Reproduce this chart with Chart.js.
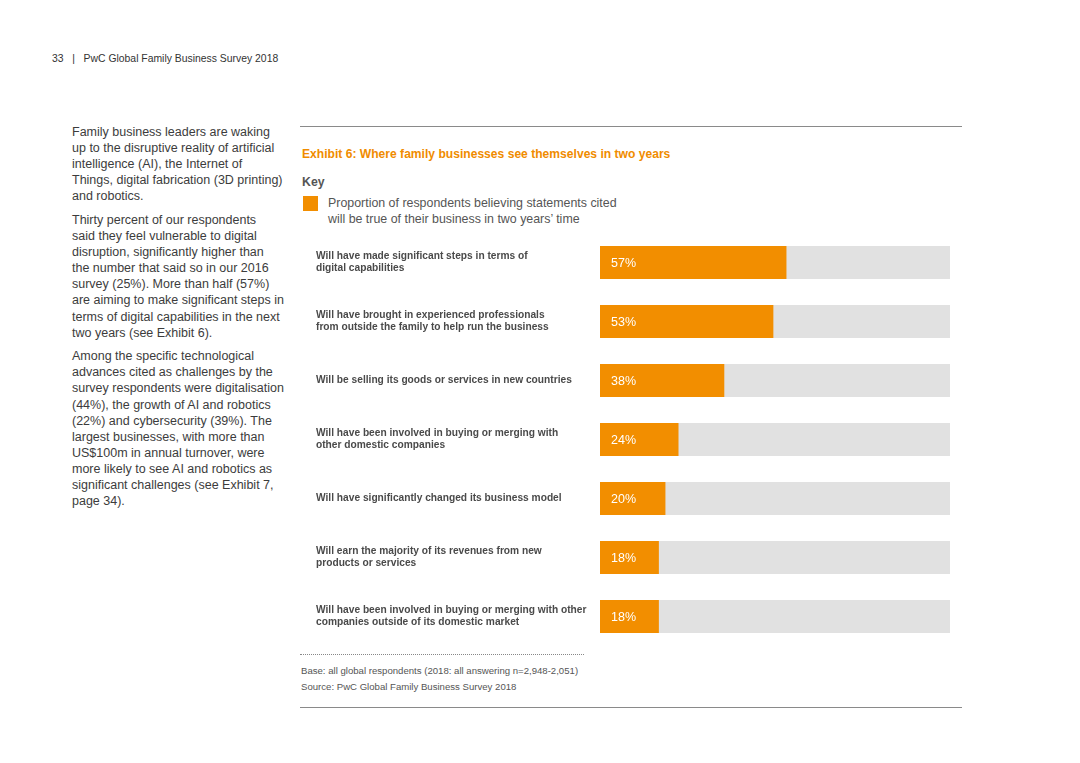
<!DOCTYPE html>
<html>
<head>
<meta charset="utf-8">
<script src="https://cdn.jsdelivr.net/npm/chart.js@4.4.1/dist/chart.umd.min.js"></script>
<style>
    html, body { margin: 0; padding: 0; background: #fff; }
    body { width: 1080px; height: 763px; position: relative; overflow: hidden;
           font-family: "Liberation Sans", Arial, sans-serif; color: #3c3c3c; }
    .abs { position: absolute; white-space: nowrap; }
    #header { left: 52px; top: 52px; font-size: 10.4px; color: #333; line-height: 14px; }
    #body { left: 72px; top: 124px; font-size: 12.5px; line-height: 16.1px; }
    #body p { margin: 0 0 7.5px 0; }
    .rule { position: absolute; left: 300px; width: 662px; height: 0; border-top: 1.5px solid #8a8a8a; }
    #title { left: 302px; top: 146px; font-size: 12.1px; font-weight: bold; color: #f08c00; line-height: 16px; }
    #key { left: 302px; top: 174px; font-size: 12.3px; font-weight: bold; color: #555; line-height: 16px; }
    #keybox { position: absolute; left: 303px; top: 196px; width: 15px; height: 15px; background: #f28e00; }
    #keytext { left: 328px; top: 195px; font-size: 12.4px; color: #555; line-height: 16px; }
    #dots { position: absolute; left: 300px; top: 654px; width: 284px; border-top: 1px dotted #888; }
    #notes { left: 301px; top: 663px; font-size: 9.6px; color: #555; line-height: 16px; }
    #wrap { position: absolute; left: 300px; top: 233px; width: 660px; height: 413px; }
</style>
</head>
<body>
<div id="header" class="abs">33&nbsp;&nbsp;&nbsp;|&nbsp;&nbsp;&nbsp;PwC Global Family Business Survey 2018</div>

<div id="body" class="abs">
    <p>Family business leaders are waking<br>up to the disruptive reality of artificial<br>intelligence (AI), the Internet of<br>Things, digital fabrication (3D printing)<br>and robotics.</p>
    <p>Thirty percent of our respondents<br>said they feel vulnerable to digital<br>disruption, significantly higher than<br>the number that said so in our 2016<br>survey (25%). More than half (57%)<br>are aiming to make significant steps in<br>terms of digital capabilities in the next<br>two years (see Exhibit 6).</p>
    <p>Among the specific technological<br>advances cited as challenges by the<br>survey respondents were digitalisation<br>(44%), the growth of AI and robotics<br>(22%) and cybersecurity (39%). The<br>largest businesses, with more than<br>US$100m in annual turnover, were<br>more likely to see AI and robotics as<br>significant challenges (see Exhibit 7,<br>page 34).</p>
</div>

<div class="rule" style="top:126px"></div>
<div id="title" class="abs">Exhibit 6: Where family businesses see themselves in two years</div>
<div id="key" class="abs">Key</div>
<div id="keybox"></div>
<div id="keytext" class="abs">Proportion of respondents believing statements cited<br>will be true of their business in two years’ time</div>

<div id="wrap"><canvas id="chart"></canvas></div>

<div id="dots"></div>
<div id="notes" class="abs">Base: all global respondents (2018: all answering n=2,948-2,051)<br>Source: PwC Global Family Business Survey 2018</div>
<div class="rule" style="top:707px"></div>

<script>
// statements (multi-line labels) and share of respondents, %
const statements = [
    ['Will have made significant steps in terms of', 'digital capabilities'],
    ['Will have brought in experienced professionals', 'from outside the family to help run the business'],
    'Will be selling its goods or services in new countries',
    ['Will have been involved in buying or merging with', 'other domestic companies'],
    'Will have significantly changed its business model',
    ['Will earn the majority of its revenues from new', 'products or services'],
    ['Will have been involved in buying or merging with other', 'companies outside of its domestic market']
];
const shares = [57, 53, 38, 24, 20, 18, 18];
const axisMax = 107;

const ORANGE = '#f28e00';
const TRACK = '#e1e1e1';

// grey track behind every bar, full width of the plot
const trackPlugin = {
    id: 'track',
    beforeDatasetsDraw(chart) {
        const ctx = chart.ctx;
        const area = chart.chartArea;
        const meta = chart.getDatasetMeta(0);
        ctx.save();
        ctx.fillStyle = TRACK;
        meta.data.forEach(bar => {
            ctx.fillRect(area.left, bar.y - bar.height / 2, area.right - area.left, bar.height);
        });
        ctx.restore();
    }
};

// white percentage inside each bar
const valuePlugin = {
    id: 'values',
    afterDatasetsDraw(chart) {
        const ctx = chart.ctx;
        const meta = chart.getDatasetMeta(0);
        ctx.save();
        ctx.fillStyle = '#fff';
        ctx.font = '12.5px "Liberation Sans", Arial, sans-serif';
        ctx.textBaseline = 'middle';
        ctx.textAlign = 'left';
        meta.data.forEach((bar, i) => {
            ctx.fillText(shares[i] + '%', bar.base + 11, bar.y + 1);
        });
        ctx.restore();
    }
};

new Chart(document.getElementById('chart').getContext('2d'), {
    type: 'bar',
    data: {
        labels: statements,
        datasets: [{
            data: shares,
            backgroundColor: ORANGE,
            borderWidth: 0,
            categoryPercentage: 0.56,
            barPercentage: 1
        }]
    },
    options: {
        indexAxis: 'y',
        responsive: true,
        maintainAspectRatio: false,
        animation: false,
        layout: { padding: { left: 16, right: 10, top: 0, bottom: 0 } },
        plugins: {
            legend: { display: false },
            tooltip: { enabled: false }
        },
        scales: {
            x: {
                display: false,
                min: 0,
                max: axisMax
            },
            y: {
                grid: { display: false, drawTicks: false },
                border: { display: false },
                afterFit(scale) {
                    scale.width = 284;
                    // labels may overhang, keep the full height for the bars
                    scale.paddingTop = 0;
                    scale.paddingBottom = 0;
                },
                ticks: {
                    crossAlign: 'far',
                    color: '#4a4a4a',
                    font: { family: '"Liberation Sans", Arial, sans-serif', size: 10.2, weight: 'bold', lineHeight: 1.2 }
                }
            }
        }
    },
    plugins: [trackPlugin, valuePlugin]
});
</script>
</body>
</html>
